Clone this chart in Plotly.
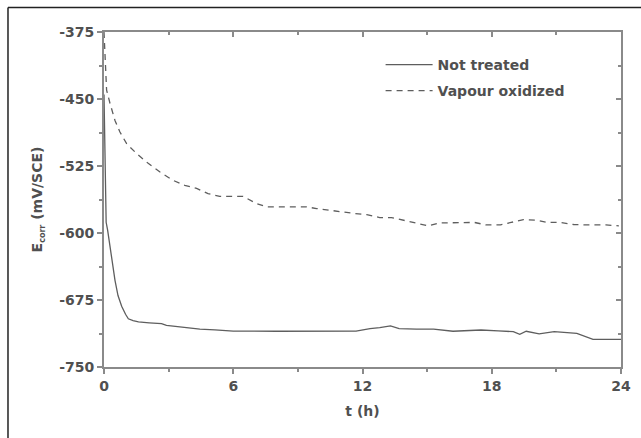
import plotly.graph_objects as go

# ---- data ----
t_not_treated = [0.0, 0.05, 0.1, 0.17, 0.35, 0.51, 0.65, 0.82, 1.0, 1.13, 1.35, 1.6, 2.1, 2.67, 2.9, 3.6, 4.45, 5.15,
                 6.0, 8.0, 10.0, 11.7, 12.35, 12.8, 13.3, 13.7, 14.5, 15.3, 16.2, 17.5, 18.3, 19.0, 19.3, 19.6,
                 20.2, 20.9, 21.5, 21.95, 22.7, 23.3, 24.0]
e_not_treated = [-445, -520, -588, -597, -628, -653, -670, -682, -691, -696, -698, -699.5, -700.5, -701.5, -703.5,
                 -705.5, -707.5, -708.5, -709.8, -710, -710, -709.8, -707, -706, -704, -707, -707.5, -707.5, -710,
                 -708.6, -709.5, -710.5, -713.5, -710, -713, -710.5, -711.5, -712.3, -719, -719, -719]

t_vapour = [0.0, 0.05, 0.12, 0.28, 0.36, 0.51, 0.74, 1.05, 1.51, 2.05, 2.6, 3.2, 3.75, 4.3, 4.83, 5.37, 6.45, 7.08,
            7.55, 9.4, 9.87, 10.5, 10.96, 11.58, 12.2, 12.8, 13.35, 13.9, 14.45, 15.06, 15.6, 16.2, 17.2, 17.75,
            18.4, 18.9, 19.47, 20.1, 20.6, 21.2, 21.8, 22.4, 23.3, 23.9]
e_vapour = [-375, -410, -440, -455, -461, -474, -487, -500, -511, -522, -531.7, -541, -546.6, -550, -556, -559, -559,
            -567, -570.8, -570.8, -572.6, -574.5, -576.7, -578, -579.5, -582.7, -582.7, -585.7, -588.7, -592,
            -588.7, -588.2, -588.2, -591, -591, -588.2, -585, -585.7, -588.2, -588.2, -590.5, -591, -591, -592]

x_tick_vals = [0, 6, 12, 18, 24]
x_tick_text = ["0", "6", "12", "18", "24"]
y_tick_vals = [-375, -450, -525, -600, -675, -750]
y_tick_text = ["-375", "-450", "-525", "-600", "-675", "-750"]

series_names = ["Not treated", "Vapour oxidized"]

LINE_C = "#5e5e5e"
AXIS_C = "#8a8a8a"
TXT_C = "#505050"
FONT = "DejaVu Sans, sans-serif"
FSIZE = 14
txt_font = dict(family=FONT, size=FSIZE, color=TXT_C, weight="bold")

fig = go.Figure()
fig.add_trace(go.Scatter(x=t_not_treated, y=e_not_treated, mode="lines", name=series_names[0],
                         line=dict(color=LINE_C, width=1.3), legend="legend"))
fig.add_trace(go.Scatter(x=t_vapour, y=e_vapour, mode="lines", name=series_names[1],
                         line=dict(color=LINE_C, width=1.3, dash="6px,5px"), legend="legend2"))
# helper trace so the mirrored inside-tick axes (top/right) are drawn
fig.add_trace(go.Scatter(x=[None], y=[None], xaxis="x2", yaxis="y2", showlegend=False, hoverinfo="skip"))

axis_common = dict(showgrid=False, zeroline=False, showline=True, linecolor=AXIS_C, linewidth=2,
                   ticks="outside", ticklen=5, tickwidth=1.5, tickcolor=AXIS_C, tickfont=txt_font)

legend_common = dict(x=0.535, xanchor="left", yanchor="top", bgcolor="rgba(0,0,0,0)",
                     font=txt_font, itemwidth=47)

fig.update_layout(
    width=641, height=438,
    margin=dict(l=104, r=20, t=31.5, b=71, autoexpand=False),
    paper_bgcolor="white", plot_bgcolor="white",
    font=txt_font,
    xaxis=dict(range=[0, 24], tickvals=x_tick_vals, ticktext=x_tick_text, mirror=True,
               minor=dict(dtick=3, ticks="outside", ticklen=3, tickcolor=AXIS_C),
               title=dict(text="t (h)", font=txt_font, standoff=13),
               **axis_common),
    yaxis=dict(range=[-750, -375], tickvals=y_tick_vals, ticktext=y_tick_text, mirror=True,
               minor=dict(dtick=37.5, tick0=-375, ticks="outside", ticklen=3, tickcolor=AXIS_C),
               title=dict(text="E<sub><span style='font-size:8px'>corr</span></sub> (mV/SCE)",
                          font=txt_font, standoff=13),
               **axis_common),
    xaxis2=dict(range=[0, 24], overlaying="x", side="top", anchor="y2", showgrid=False, zeroline=False,
                showline=False, showticklabels=False, tickvals=x_tick_vals, ticks="inside", ticklen=5,
                tickcolor=AXIS_C, tickwidth=1.5,
                minor=dict(dtick=3, ticks="inside", ticklen=3, tickcolor=AXIS_C)),
    yaxis2=dict(range=[-750, -375], overlaying="y", side="right", anchor="x2", showgrid=False, zeroline=False,
                showline=False, showticklabels=False, tickvals=y_tick_vals, ticks="inside", ticklen=5,
                tickcolor=AXIS_C, tickwidth=1.5,
                minor=dict(dtick=37.5, tick0=-375, ticks="inside", ticklen=3, tickcolor=AXIS_C)),
    legend=dict(y=0.949, **legend_common),
    legend2=dict(y=0.8715, **legend_common),
    showlegend=True,
    shapes=[
        dict(type="line", xref="paper", yref="paper", x0=-0.1857, x1=1.06, y0=1.073, y1=1.073,
             line=dict(color="#222", width=1.5)),
        dict(type="line", xref="paper", yref="paper", x0=-0.1857, x1=-0.1857, y0=1.073, y1=-0.25,
             line=dict(color="#222", width=1.5)),
    ],
)

fig.write_html("out.html", config={"displayModeBar": False},
               post_script="document.body.style.margin='0';document.body.style.overflow='hidden';")
